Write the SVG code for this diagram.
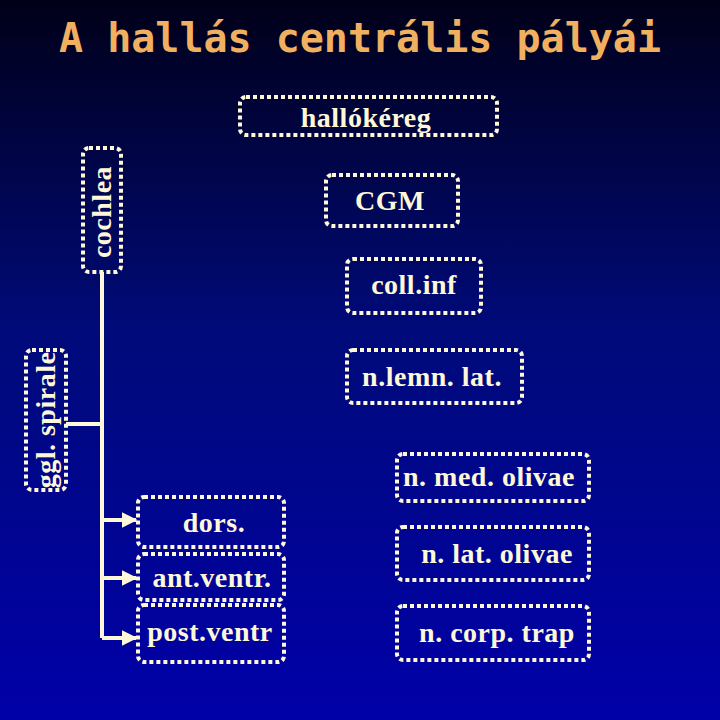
<svg xmlns="http://www.w3.org/2000/svg" width="720" height="720" viewBox="0 0 720 720">
<defs>
<linearGradient id="bg" x1="0" y1="0" x2="0" y2="1"><stop offset="0" stop-color="#000018"/><stop offset="0.45" stop-color="#000a78"/><stop offset="1" stop-color="#0000a8"/></linearGradient>
<marker id="ar" viewBox="0 0 10 10" refX="9" refY="5" markerWidth="4" markerHeight="4" orient="auto"><path d="M0,0 L10,5 L0,10 z" fill="#fff8d8"/></marker>
<style>
.b{fill:none;stroke:#fff8d8;stroke-width:4;stroke-dasharray:4 3}
.t{font-family:"Liberation Serif",serif;font-size:28px;font-weight:bold;letter-spacing:0.5px;fill:#fff8d8;text-anchor:middle}
.c{stroke:#fff8d8;stroke-width:4;fill:none}
</style>
</defs>
<rect width="720" height="720" fill="url(#bg)"/>
<text x="360" y="52" font-family="DejaVu Sans Mono,monospace" font-weight="bold" font-size="40" fill="#f0b060" text-anchor="middle">A hallás centrális pályái</text>
<g id="connectors">
<path class="c" d="M102 272 V638"/>
<path class="c" d="M66 424 H102"/>
<path class="c" d="M102 520 H136" marker-end="url(#ar)"/>
<path class="c" d="M102 578 H136" marker-end="url(#ar)"/>
<path class="c" d="M102 638 H136" marker-end="url(#ar)"/>
</g>
<g id="hallokereg"><rect class="b" x="240" y="97" width="257" height="38" rx="6"/><text class="t" x="366" y="127">hallókéreg</text></g>
<g id="cochlea"><rect class="b" x="83" y="148" width="38" height="124" rx="6"/><text class="t" transform="translate(111 212) rotate(-90)">cochlea</text></g>
<g id="ggl"><rect class="b" x="26" y="350" width="40" height="140" rx="6"/><text class="t" transform="translate(55 420) rotate(-90)">ggl. spirale</text></g>
<g id="cgm"><rect class="b" x="326" y="175" width="132" height="51" rx="6"/><text class="t" x="390" y="210">CGM</text></g>
<g id="collinf"><rect class="b" x="347" y="259" width="134" height="54" rx="6"/><text class="t" x="414" y="294">coll.inf</text></g>
<g id="nlemn"><rect class="b" x="347" y="350" width="175" height="53" rx="6"/><text class="t" x="432" y="386">n.lemn. lat.</text></g>
<g id="nmed"><rect class="b" x="397" y="454" width="192" height="47" rx="6"/><text class="t" x="489" y="486">n. med. olivae</text></g>
<g id="nlat"><rect class="b" x="397" y="527" width="192" height="53" rx="6"/><text class="t" x="497" y="563">n. lat. olivae</text></g>
<g id="ncorp"><rect class="b" x="397" y="606" width="192" height="54" rx="6"/><text class="t" x="497" y="642">n. corp. trap</text></g>
<g id="dors"><rect class="b" x="138" y="497" width="146" height="50" rx="6"/><text class="t" x="214" y="532">dors.</text></g>
<g id="antventr"><rect class="b" x="138" y="554" width="146" height="46" rx="6"/><text class="t" x="212" y="587">ant.ventr.</text></g>
<g id="postventr"><rect class="b" x="138" y="605" width="146" height="57" rx="6"/><text class="t" x="210" y="641">post.ventr</text></g>
</svg>
